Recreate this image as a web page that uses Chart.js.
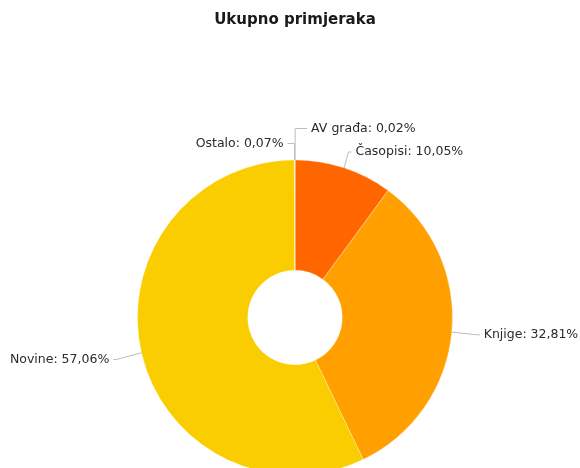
<!DOCTYPE html>
<html>
<head>
<meta charset="utf-8">
<script src="https://cdn.jsdelivr.net/npm/chart.js@4/dist/chart.umd.min.js"></script>
<style>
  html, body { margin: 0; padding: 0; background: #fff; overflow: hidden; }
</style>
</head>
<body>
<canvas id="myChart" width="580" height="480"></canvas>
<script>
/* podaci grafikona */
const categories = ['AV građa', 'Časopisi', 'Knjige', 'Novine', 'Ostalo'];
const shares = [0.02, 10.05, 32.81, 57.06, 0.07];
const sliceColors = ['#e8a33d', '#ff6600', '#ffa000', '#f9cd00', '#f7e27a'];

/* pomaci natpisa (samo tekst, ne isjecci) */
const labelNudge = [
    { dx: 13, dy: -1.5 },
    { dx: -1, dy: 0 },
    { dx: -1, dy: 0 },
    { dx: 0, dy: 0 },
    { dx: -8, dy: 13.5 }
];

const fmt = (v) => v.toFixed(2).replace('.', ',');

/* plugin za natpise s linijama (kao u Highcharts) */
const pieLabels = {
    id: 'pieLabels',
    afterDatasetsDraw(chart) {
        const ctx = chart.ctx;
        const meta = chart.getDatasetMeta(0);
        const dist = 30;
        let cx = 0;
        const items = meta.data.map((arc, i) => {
            const p = arc.getProps(['x', 'y', 'startAngle', 'endAngle', 'outerRadius'], true);
            cx = p.x;
            const mid = (p.startAngle + p.endAngle) / 2;
            const ringX = p.x + Math.cos(mid) * p.outerRadius;
            const ringY = p.y + Math.sin(mid) * p.outerRadius;
            const nx = p.x + Math.cos(mid) * (p.outerRadius + dist);
            const ny = p.y + Math.sin(mid) * (p.outerRadius + dist);
            const side = Math.cos(mid) >= -0.001 ? 1 : -1;
            return { i, ringX, ringY, nx, ny, side };
        });

        /* razmicanje natpisa na istoj strani */
        [1, -1].forEach(s => {
            const group = items.filter(it => it.side === s).sort((a, b) => a.ny - b.ny);
            for (let k = 1; k < group.length; k++) {
                if (group[k].ny < group[k - 1].ny + 22) group[k].ny = group[k - 1].ny + 22;
            }
        });

        ctx.save();
        ctx.font = '12.5px "DejaVu Sans", Verdana, sans-serif';
        ctx.textBaseline = 'middle';
        items.forEach(it => {
            const n = labelNudge[it.i];
            const tx = it.nx + it.side * 3 + n.dx;
            const ty = it.ny + n.dy;
            const lx = tx - it.side * 4;
            /* isjecci pri vrhu: linija ide okomito pa vodoravno */
            const bx = Math.abs(it.ringX - cx) < 5 ? it.ringX : lx - it.side * Math.min(3, Math.abs(lx - it.ringX));

            ctx.strokeStyle = '#bdbdbd';
            ctx.lineWidth = 1;
            ctx.beginPath();
            ctx.moveTo(lx, ty);
            ctx.lineTo(bx, ty);
            ctx.lineTo(it.ringX, it.ringY);
            ctx.stroke();

            ctx.fillStyle = '#2b2b2b';
            ctx.textAlign = it.side === 1 ? 'left' : 'right';
            ctx.fillText(categories[it.i] + ': ' + fmt(shares[it.i]) + '%', tx, ty);
        });
        ctx.restore();
    }
};

const ctx = document.getElementById('myChart');

const config = {
    type: 'doughnut',
    data: {
        labels: categories,
        datasets: [{
            data: shares,
            backgroundColor: sliceColors,
            borderColor: 'rgba(255,255,255,0.3)',
            borderWidth: 1
        }]
    },
    options: {
        responsive: false,
        animation: false,
        events: [],
        cutout: '30%',
        layout: { padding: { top: 0, left: 10, right: 0, bottom: 4.5 } },
        plugins: {
            legend: { display: false },
            tooltip: { enabled: false },
            title: {
                display: true,
                text: 'Ukupno primjeraka',
                color: '#1a1a1a',
                font: { family: '"DejaVu Sans", Verdana, sans-serif', size: 15, weight: 'bold' },
                padding: { top: 11, bottom: 130.5 }
            }
        }
    },
    plugins: [pieLabels]
};

const chart = new Chart(ctx, config);
</script>
</body>
</html>
